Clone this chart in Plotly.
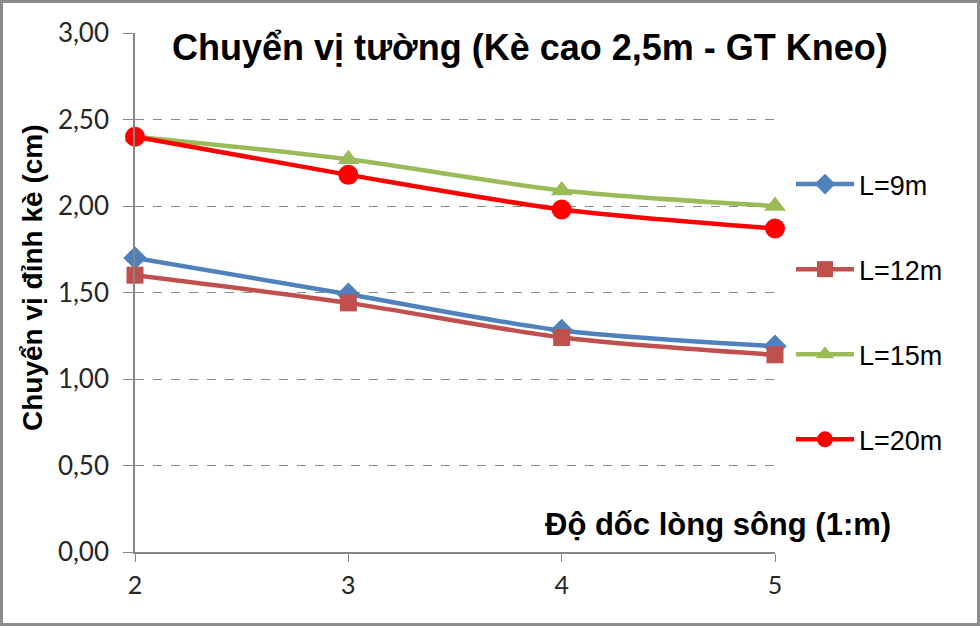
import plotly.graph_objects as go

# do doc long song (1:m)
slope = [2, 3, 4, 5]

# chuyen vi dinh ke (cm) cho tung chieu dai L
names = ["L=9m", "L=12m", "L=15m", "L=20m"]
disp_9 = [1.70, 1.49, 1.28, 1.19]
disp_12 = [1.60, 1.44, 1.24, 1.14]
disp_15 = [2.40, 2.27, 2.09, 2.00]
disp_20 = [2.40, 2.18, 1.98, 1.87]

yticks = [0, 0.5, 1.0, 1.5, 2.0, 2.5, 3.0]

series = [disp_9, disp_12, disp_15, disp_20]
colors = ["#4F81BD", "#C0504D", "#9BBB59", "#FF0000"]
symbols = ["diamond", "square", "triangle-up", "circle"]
sizes = [18, 17, 19, 20]

fig = go.Figure()
for i in range(len(series)):
    fig.add_trace(go.Scatter(
        x=slope, y=series[i], name=names[i],
        mode="lines+markers",
        line=dict(color=colors[i], width=4.5, shape="spline", smoothing=0.8),
        marker=dict(symbol=symbols[i], size=sizes[i], color=colors[i]),
        legendgroup=names[i],
        cliponaxis=False,
    ))

# margins -> plot area 135..775 x 33..552 px
L, R, T, B = 135, 205, 33, 74
W, H = 980, 626
pw, ph = W - L - R, H - T - B

fig.update_layout(
    width=W, height=H,
    margin=dict(l=L, r=R, t=T, b=B),
    paper_bgcolor="white", plot_bgcolor="white",
    separators=",.",
    showlegend=True,
    legend=dict(
        x=1.025, y=(H - B - 160) / ph, xanchor="left", yanchor="top",
        font=dict(family="Liberation Sans", size=27, color="black"),
        tracegroupgap=47, itemwidth=58,
        bgcolor="rgba(0,0,0,0)",
    ),
    font=dict(family="Liberation Sans", color="black"),
)

fig.update_xaxes(
    range=[2, 5], tickvals=slope, ticktext=[str(s) for s in slope],
    showgrid=False, zeroline=False,
    showline=True, linecolor="#868686", linewidth=1.5,
    ticks="outside", ticklen=8, tickcolor="#868686",
    ticklabelstandoff=2,
    tickfont=dict(family="Lato", size=25, color="#262626"),
)
fig.update_yaxes(
    range=[0, 3], tickvals=yticks, tickformat=".2f",
    showgrid=True, gridcolor="#8a8a8a", griddash="dash", gridwidth=1,
    zeroline=False,
    showline=True, linecolor="#868686", linewidth=1.5,
    ticks="outside", ticklen=10, tickcolor="#868686",
    ticklabelstandoff=9,
    tickfont=dict(family="Lato", size=26, color="#262626"),
)

# tieu de va nhan truc
fig.add_annotation(
    text="<b>Chuyển vị tường (Kè cao 2,5m - GT Kneo)</b>",
    xref="paper", yref="paper", x=(530 - L) / pw, y=(H - B - 47) / ph,
    showarrow=False, xanchor="center", yanchor="middle",
    font=dict(family="Liberation Sans", size=36, color="black"),
)
fig.add_annotation(
    text="<b>Chuyển vị đỉnh kè (cm)</b>",
    xref="paper", yref="paper", x=(32 - L) / pw, y=(H - B - 278) / ph,
    showarrow=False, textangle=-90, xanchor="center", yanchor="middle",
    font=dict(family="Liberation Sans", size=28, color="black"),
)
fig.add_annotation(
    text="<b>Độ dốc lòng sông (1:m)</b>",
    xref="paper", yref="paper", x=(893 - L) / pw, y=(H - B - 524) / ph,
    showarrow=False, xanchor="right", yanchor="middle",
    font=dict(family="Liberation Sans", size=31, color="black"),
)

# khung vien ngoai
fig.add_shape(
    type="rect", xref="paper", yref="paper",
    x0=(1.5 - L) / pw, x1=(W - 1.5 - L) / pw,
    y0=(1.5 - B) / ph, y1=(H - 1.5 - B) / ph,
    line=dict(color="#8c8c8c", width=3),
)

fig.write_html("out.html", config={"displayModeBar": False},
               post_script="document.body.style.margin='0';")
